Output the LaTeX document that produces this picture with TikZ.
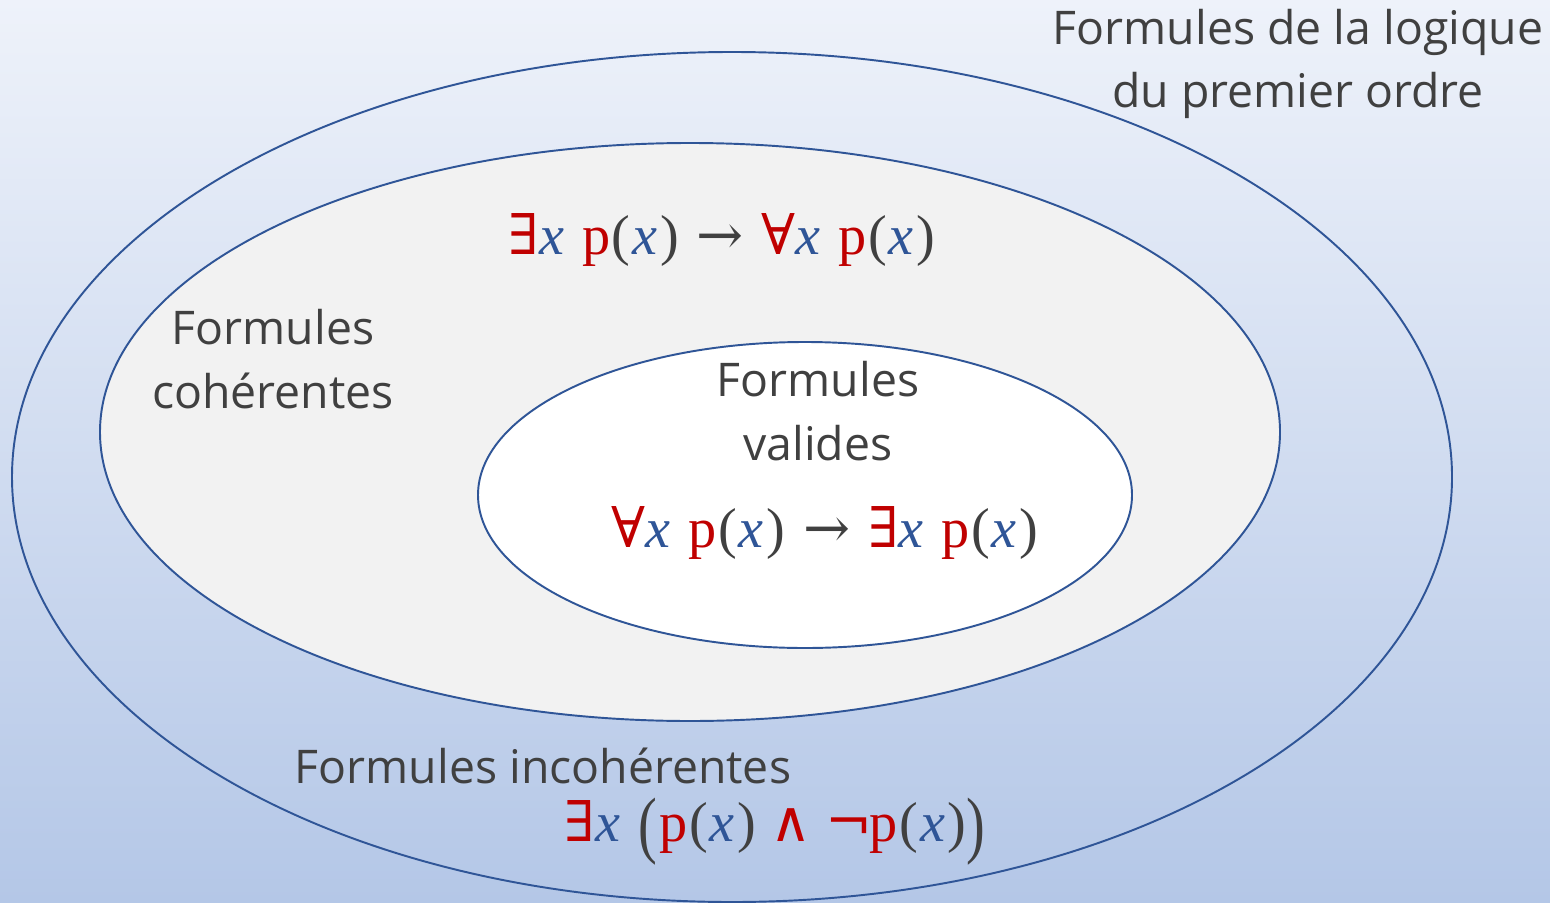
\documentclass[tikz,border=0pt]{standalone}
\usepackage{fontspec}
\usepackage{graphicx}
\setmainfont{Open Sans}
\newfontfamily\symf{DejaVu Serif}
\newfontfamily\frmf{Liberation Serif}
\usetikzlibrary{arrows.meta,positioning}
\definecolor{bgtop}{RGB}{238,242,250}
\definecolor{bgbot}{RGB}{180,199,231}
\definecolor{edgeblue}{RGB}{47,85,151}
\definecolor{pred}{RGB}{192,0,0}
\definecolor{tgray}{RGB}{64,64,64}
\definecolor{midfill}{RGB}{242,242,242}
\newcommand{\vx}{\textcolor{edgeblue}{\itshape x}}
\newcommand{\pp}{\textcolor{pred}{p}}
\newcommand{\fsp}{\hspace{0.32em}}
\newcommand{\lp}{\kern0.03em(\kern0.03em}
\newcommand{\rp}{\kern0.05em)}
\newcommand{\qex}{\textcolor{pred}{\symf ∃}}
\newcommand{\qall}{\textcolor{pred}{\symf ∀}}
\newcommand{\imp}{{\symf →}}
\newcommand{\bigpar}[1]{\raisebox{-0.14em}{\scalebox{1}[1.32]{#1}}}

\begin{document}
\begin{tikzpicture}[x=0.02cm,y=-0.02cm,font=\fontsize{26.4}{36}\selectfont,text=tgray]
\tikzstyle{lbl}=[align=center,inner sep=0pt]
\tikzstyle{frm}=[inner sep=0pt,font=\frmf\fontsize{32}{38}\selectfont]
\tikzstyle{ring}=[draw=edgeblue,line width=1.1pt]
\useasboundingbox (0,0) rectangle (1550,902);
\shade[top color=bgtop,bottom color=bgbot] (0,0) rectangle (1550,902);
% the three sets
\draw[ring] (732,477) ellipse [x radius=720,y radius=425];
\draw[ring,fill=midfill] (690,432) ellipse [x radius=590,y radius=289];
\draw[ring,fill=white] (805,495) ellipse [x radius=327,y radius=153];
% labels
\node[lbl] (all) at (1298,64) {Formules de la logique\\du premier ordre};
\node[lbl] (coh) at (273,359) {Formules\\cohérentes};
\node[lbl] (val) at (818,411) {Formules\\valides};
\node[lbl] (inc) at (543,766) {Formules incohérentes};
% formulas
\node[frm] (f1) at (722,240) {\qex\vx\fsp\pp\lp\vx\rp\fsp\imp\fsp\qall\vx\fsp\pp\lp\vx\rp};
\node[frm] (f2) at (825,533) {\qall\vx\fsp\pp\lp\vx\rp\fsp\imp\fsp\qex\vx\fsp\pp\lp\vx\rp};
\node[frm] (f3) at (775,832) {\qex\vx\fsp\bigpar{(}\kern0.05em\pp\lp\vx\rp\hspace{0.25em}\textcolor{pred}{\symf ∧}\hspace{0.25em}\textcolor{pred}{\symf ¬}\kern-0.05em\pp\lp\vx\rp\bigpar{)}};
\end{tikzpicture}
\end{document}
